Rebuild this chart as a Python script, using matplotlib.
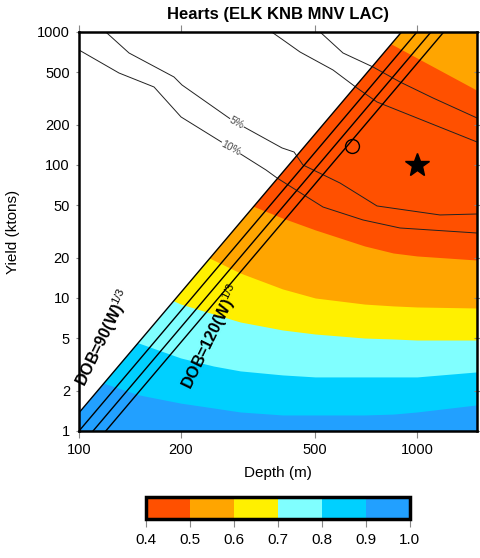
import matplotlib.pyplot as plt
import matplotlib as mpl
import numpy as np

plt.rcParams['font.family'] = ['Liberation Sans', 'DejaVu Sans']
plt.rcParams['mathtext.fontset'] = 'custom'
plt.rcParams['mathtext.rm'] = 'Liberation Sans'
plt.rcParams['mathtext.it'] = 'Liberation Sans:italic'
plt.rcParams['mathtext.bf'] = 'Liberation Sans:bold'

# contour boundaries (yield in kt), on a common depth grid
depth = [100, 150, 200, 250, 300, 400, 500, 700, 850, 1000, 1500]
b09 = [2.64, 1.87, 1.62, 1.49, 1.39, 1.32, 1.32, 1.32, 1.34, 1.39, 1.57]
b08 = [5.75, 4.59, 3.54, 3.08, 2.83, 2.64, 2.55, 2.55, 2.55, 2.55, 2.78]
b07 = [18.7, 12.5, 9.0, 7.58, 6.60, 5.75, 5.36, 5.0, 4.92, 4.83, 4.83]
b06 = [50, 35.4, 25, 19.3, 15.4, 11.7, 10.0, 9.0, 8.72, 8.56, 8.41]
b05_low = [154, 109, 79.8, 64.9, 53.6, 39.9, 32.5, 24.6, 21.8, 20.7, 19.3]
b05_up = [3000, 3000, 3000, 3000, 3000, 3000, 2000, 1050, 798, 638, 366]

levels = [0.4, 0.5, 0.6, 0.7, 0.8, 0.9, 1.0]
colors = ['#ff5000', '#ffa500', '#fff000', '#80ffff', '#00d0ff', '#22a0ff']

# percent contour lines
c10_d = [100, 131.3, 166.7, 200.4, 281.7, 357.5, 385.3, 472.6, 527.1, 692.2, 890.5, 1505]
c10_w = [732, 491.6, 385.9, 229.6, 134.3, 91.7, 79.9, 57.5, 48.3, 38.6, 33.6, 30.8]
c05_d = [120, 140.6, 191.0, 201.7, 277.8, 307.7, 398.7, 432.7, 459.9, 591.8, 761.4, 1169.5, 1505]
c05_w = [1000, 695, 458.8, 399.4, 225.6, 193.1, 134.3, 125.2, 100, 73.2, 49.2, 42.1, 42.8]
c02_d = [516.4, 604, 741, 890.5, 1115, 1505]
c02_w = [1000, 695, 545.6, 420.8, 319, 225.6]
c03_d = [375, 401.5, 450.6, 564.2, 664.4, 761.4, 1000, 1505]
c03_w = [983, 870.9, 707.3, 517.9, 379.3, 297.6, 225.6, 148.9]

dob_k = [90, 100, 110, 120]
yield_ends = np.array([0.5, 2000.0])

circle_pt = (642, 139)
star_pt = (1000, 100)

fig = plt.figure(figsize=(4.8, 5.58), dpi=100)
ax = fig.add_axes([0.1646, 0.2276, 0.8292, 0.7151])
ax.set_xscale('log')
ax.set_yscale('log')

# filled bands
ax.fill_between(depth, 0.5, 3000, color=colors[1], lw=0)
ax.fill_between(depth, b05_low, b05_up, color=colors[0], lw=0)
ax.fill_between(depth, 0.5, b06, color=colors[2], lw=0)
ax.fill_between(depth, 0.5, b07, color=colors[3], lw=0)
ax.fill_between(depth, 0.5, b08, color=colors[4], lw=0)
ax.fill_between(depth, 0.5, b09, color=colors[5], lw=0)

# blank out region shallower than 90 W^1/3
mask_d = dob_k[0] * yield_ends ** (1 / 3)
ax.fill([mask_d[0], mask_d[1], 50, 50], [yield_ends[0], yield_ends[1], yield_ends[1], yield_ends[0]],
        color='white', lw=0, zorder=2)

for k in dob_k:
    ax.plot(k * yield_ends ** (1 / 3), yield_ends, color='black', lw=1.0, zorder=4)

for d, w in [(c10_d, c10_w), (c05_d, c05_w), (c02_d, c02_w), (c03_d, c03_w)]:
    ax.plot(d, w, color='#222222', lw=0.7, zorder=3)

ax.text(281.7, 134, '10%', fontsize=7.5, color='#444444', rotation=-28, ha='center', va='center',
        zorder=3.5, bbox=dict(fc='white', ec='none', pad=0.3))
ax.text(293, 207, '5%', fontsize=7.5, color='#444444', rotation=-28, ha='center', va='center',
        zorder=3.5, bbox=dict(fc='white', ec='none', pad=0.3))

ax.plot(*circle_pt, marker='o', ms=10, mfc='none', mec='black', mew=1.0, zorder=5)
ax.plot(*star_pt, marker='*', ms=18, color='black', zorder=5)

ax.text(118, 5.0, 'DOB=90(W)$^{\\mathit{1/3}}$', fontsize=11.5, fontweight='bold', rotation=64,
        ha='center', va='center', zorder=5)
ax.text(247, 5.1, 'DOB=120(W)$^{\\mathit{1/3}}$', fontsize=11.5, fontweight='bold', rotation=64,
        ha='center', va='center', zorder=5)

ax.set_xlim(100, 1505)
ax.set_ylim(1, 1000)
xt = [100, 200, 500, 1000]
yt = [1, 2, 5, 10, 20, 50, 100, 200, 500, 1000]
ax.set_xticks(xt)
ax.set_xticklabels([str(v) for v in xt])
ax.set_yticks(yt)
ax.set_yticklabels([str(v) for v in yt])
ax.minorticks_off()
ax.tick_params(axis='both', which='major', labelsize=10.5, length=5, width=0.8, color='#888888',
               top=True, right=True, direction='out', pad=4)
ax.tick_params(axis='y', which='major', right=True, direction='inout')
for s in ax.spines.values():
    s.set_linewidth(1.8)
    s.set_zorder(6)
ax.set_xlabel('Depth (m)', fontsize=11, labelpad=6)
ax.set_ylabel('Yield (ktons)', fontsize=11, labelpad=12)
ax.set_title('Hearts (ELK KNB MNV LAC)', fontsize=12, fontweight='bold', pad=9)

# colour bar
cax = fig.add_axes([0.304, 0.0699, 0.55, 0.0394])
cmap = mpl.colors.ListedColormap(colors)
norm = mpl.colors.BoundaryNorm(levels, cmap.N)
cb = mpl.colorbar.ColorbarBase(cax, cmap=cmap, norm=norm, orientation='horizontal', ticks=levels)
cb.set_ticklabels(['%.1f' % v for v in levels])
cb.outline.set_linewidth(2.5)
cax.tick_params(labelsize=11, length=6, width=0.8, color='#888888', pad=4)

fig.savefig('out.png', dpi=100)
